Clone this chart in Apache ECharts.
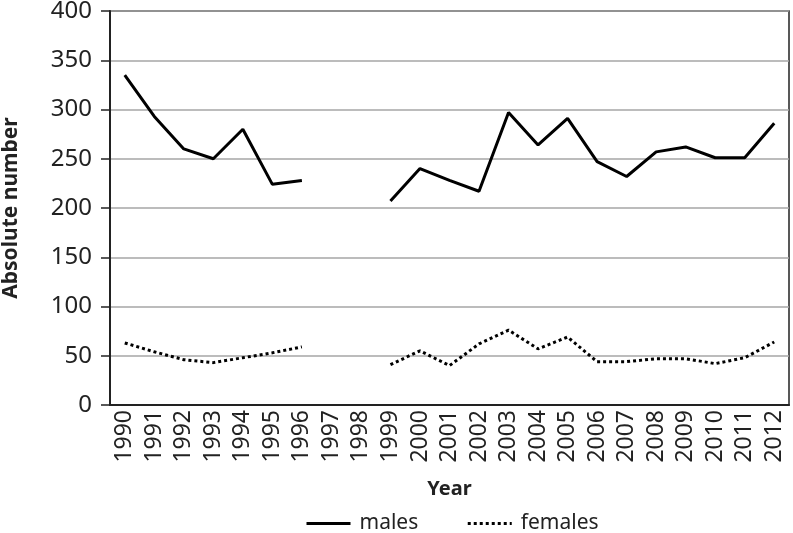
<!DOCTYPE html>
<html>
<head>
<meta charset="utf-8">
<script src="https://cdn.jsdelivr.net/npm/echarts@6/dist/echarts.min.js"></script>
<style>html,body{margin:0;padding:0;background:#fff}#c{width:793px;height:533px}</style>
</head>
<body>
<div id="c"></div>
<script>
var years = ['1990','1991','1992','1993','1994','1995','1996','1997','1998','1999','2000','2001','2002','2003','2004','2005','2006','2007','2008','2009','2010','2011','2012'];
var males = [335, 293, 260, 250, 280, 224, 228, null, null, 207, 240, 228, 217, 297, 264, 291, 247, 232, 257, 262, 251, 251, 286];
var females = [63, 54, 46, 43, 48, 53, 59, null, null, 41, 55, 40, 62, 76, 57, 69, 44, 44, 47, 47, 42, 48, 64];
var yTicks = [0, 50, 100, 150, 200, 250, 300, 350, 400];

var font = 'Noto Sans';
var chart = echarts.init(document.getElementById('c'), null, {renderer: 'canvas'});
chart.setOption({
  animation: false,
  textStyle: {fontFamily: font, color: '#222'},
  grid: {left: 110, right: 4, top: 11, bottom: 128, outerBoundsMode: 'none', containLabel: false,
         show: true, borderColor: '#222', borderWidth: 1.5, backgroundColor: 'transparent'},
  legend: {
    top: 508, left: 300, itemWidth: 44, itemHeight: 10, itemGap: 48,
    itemStyle: {opacity: 0},
    lineStyle: {width: 3},
    textStyle: {fontFamily: font, fontSize: 21, color: '#222', padding: [0, 0, 0, 4]},
    data: ['males', 'females']
  },
  xAxis: {
    type: 'category', data: years, boundaryGap: true,
    name: 'Year', nameLocation: 'middle', nameGap: 74,
    nameTextStyle: {fontFamily: font, fontSize: 20, fontWeight: 'bold', color: '#222'},
    axisLine: {lineStyle: {color: '#222', width: 2}},
    axisTick: {show: false},
    axisLabel: {rotate: 90, fontSize: 23, color: '#222', margin: 5, interval: 0}
  },
  yAxis: {
    type: 'value', min: 0, max: 400, interval: 50,
    name: 'Absolute number', nameLocation: 'middle', nameGap: 88,
    nameTextStyle: {fontFamily: font, fontSize: 21, fontWeight: 'bold', color: '#222'},
    axisLine: {show: true, lineStyle: {color: '#222', width: 2}},
    axisTick: {show: true, length: 9, lineStyle: {color: '#222', width: 1.5}},
    axisLabel: {fontSize: 24, color: '#222', margin: 18, formatter: function (v) { return yTicks.indexOf(v) >= 0 ? String(v) : ''; }},
    splitLine: {lineStyle: {color: '#a6a6a6', width: 1.5}}
  },
  series: [
    {name: 'males', type: 'line', data: males, symbol: 'none', connectNulls: false,
     lineStyle: {color: '#000', width: 3, type: 'solid'}, itemStyle: {color: '#000'}},
    {name: 'females', type: 'line', data: females, symbol: 'none', connectNulls: false,
     lineStyle: {color: '#000', width: 3, type: [3, 3]}, itemStyle: {color: '#000'}}
  ]
});
</script>
</body>
</html>
